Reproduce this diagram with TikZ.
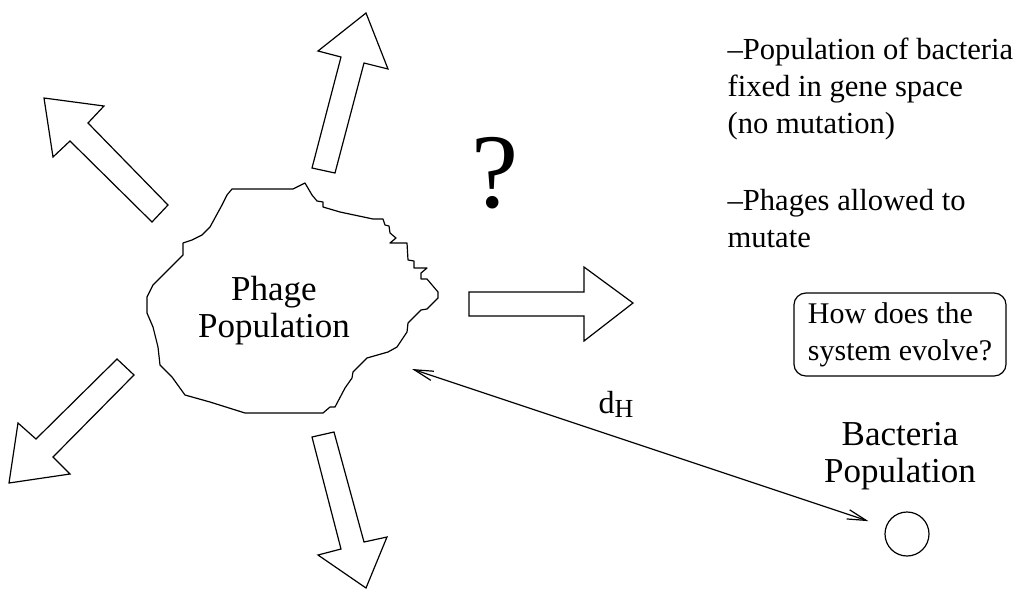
\documentclass[tikz,border=0pt]{standalone}
\usepackage{fontspec}
\setmainfont{Liberation Serif}
\usetikzlibrary{arrows.meta}
\begin{document}
\begin{tikzpicture}[
    x=0.5pt, y=-0.5pt,
    line width=0.6pt,
    every node/.style={text=black},
    fatarrow/.style={draw=black, line join=miter},
    blob/.style={draw=black, line join=round},
    dist/.style={draw=black, {Straight Barb[length=9.5pt,width=4.8pt]}-{Straight Barb[length=9.5pt,width=4.8pt]}},
    bigtext/.style={font=\fontsize{17.5}{18.5}\selectfont, align=center, anchor=base},
    note/.style={font=\fontsize{15.3}{18.3}\selectfont, align=left, anchor=base west, inner sep=0pt},
    infobox/.style={draw, rounded corners=6pt, align=left, inner xsep=7pt,
      minimum width=106pt, minimum height=41.5pt, font=\fontsize{15}{18.5}\selectfont}
  ]
  \useasboundingbox (0,0) rectangle (1016,590);

  %--------------------------------------
  % Phage population (ragged outline)
  %--------------------------------------
  \draw[blob] (232,189) -- (293,189) -- (305,183) -- (312,195) -- (317,201)
    -- (323,202) -- (323,207) -- (340,212) -- (373,219) -- (383,219)
    -- (385,225) -- (389,226) -- (390,233) -- (396,238) -- (390,243)
    -- (407,243) -- (408,260) -- (414,261) -- (414,268) -- (427,268)
    -- (421,273) -- (421,279) -- (427,279) -- (438,292) -- (438,298)
    -- (427,309) -- (421,310) -- (408,323) -- (407,332) -- (397,347)
    -- (388,352) -- (367,358) -- (353,372) -- (352,378) -- (345,388)
    -- (335,407) -- (330,407) -- (323,413) -- (245,413) -- (210,402)
    -- (185,395) -- (172,377) -- (160,365) -- (158,347) -- (153,327)
    -- (147,313) -- (147,297) -- (153,285) -- (183,255) -- (183,243)
    -- (192,240) -- (202,235) -- (210,227) -- (222,205) -- (227,195) -- cycle;
  \node[bigtext] (phage) at (274,337) {Phage\\Population};

  %--------------------------------------
  % Mutation directions (open block arrows)
  %--------------------------------------
  % up-left
  \draw[fatarrow] (168,205) -- (88,123) -- (104,106) -- (44,98) -- (53,157)
    -- (70,141) -- (152,222) -- cycle;
  % up
  \draw[fatarrow] (312,168) -- (341,57) -- (318,51) -- (366,13) -- (388,69)
    -- (364,63) -- (335,173) -- cycle;
  % down-left
  \draw[fatarrow] (117,359) -- (36,439) -- (18,423) -- (9,483) -- (70,474)
    -- (53,457) -- (134,375) -- cycle;
  % down
  \draw[fatarrow] (312,437) -- (341,549) -- (318,555) -- (366,588) -- (387,537)
    -- (364,542) -- (334,432) -- cycle;
  % right, towards the question mark
  \draw[fatarrow] (469,292) -- (584,292) -- (584,267) -- (633,303) -- (584,341)
    -- (584,316) -- (469,316) -- cycle;

  \node[font=\fontsize{53}{53}\selectfont, anchor=base] (quest) at (495,207) {?};

  %--------------------------------------
  % Bacteria population and distance
  %--------------------------------------
  \node[bigtext] (bactlabel) at (900,482) {Bacteria\\Population};
  \node[circle, draw, minimum size=22pt, inner sep=0pt] (bact) at (907,534) {};
  \coordinate (phageEdge) at (412,369);
  \draw[dist, shorten >=9pt] (phageEdge) -- (bact);
  \node[font=\fontsize{16}{16}\selectfont, anchor=base west, inner sep=0pt] (dH) at (598,413)
    {d\raisebox{-0.3ex}{\fontsize{13}{13}\selectfont H}};

  %--------------------------------------
  % Notes on the right
  %--------------------------------------
  \node[note] (noteA) at (727,133) {–Population of bacteria\\fixed in gene space\\(no mutation)};
  \node[note] (noteB) at (727,247) {–Phages allowed to\\mutate};
  \node[infobox] (ask) at (900,334.5) {How does the\\system evolve?};

\end{tikzpicture}
\end{document}
